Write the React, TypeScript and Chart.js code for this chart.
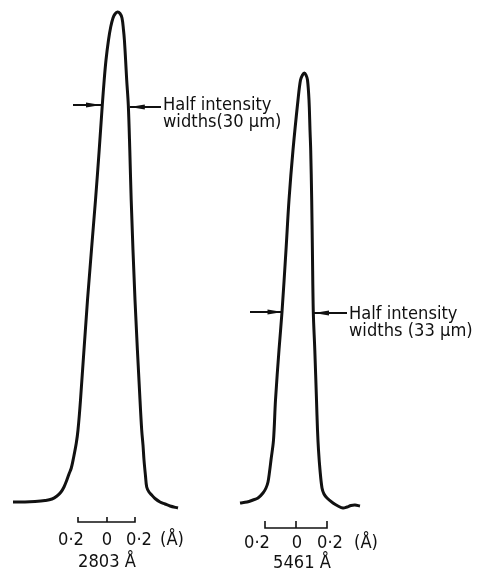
import React, { useEffect, useRef } from "react";
import { Chart, registerables } from "chart.js";

Chart.register(...registerables);

// Trace position (chart units) and recorded intensity (arbitrary units)
const peak2803X = [13, 25, 35, 45, 52, 57, 61, 64, 66.5, 69, 71.3, 73.5, 76.3, 78, 80.5, 87.5, 95.5, 99.2, 102.3, 104.2, 106, 108.5, 110.7, 113, 115, 117.5, 120, 122, 123.5, 124.4, 125.6, 126.7, 128.3, 129.8, 131.2, 135, 140, 141.7, 143, 144, 145.5, 146.7, 149, 151.7, 155, 160, 165, 170, 178];
const peak2803I = [8, 8, 8.5, 9.5, 11, 14, 18, 23, 29, 36, 42, 52, 67, 80, 110, 210, 310, 360, 405, 430, 450, 470, 483, 492, 496, 498, 496.5, 492, 480, 470, 450, 430, 405, 360, 310, 210, 110, 80, 65, 50, 34, 23, 18, 15, 11.5, 8, 6, 4, 2];

const peak5461X = [240, 247, 253, 258, 263, 266, 268, 269.5, 271, 273.5, 275.5, 279, 282, 286, 289, 293, 298, 300.5, 302.5, 304.3, 306, 307.5, 309, 310, 310.7, 311.7, 312.4, 313.3, 314.8, 316.5, 317.5, 318.5, 320, 322, 324, 327, 333, 338, 343, 347, 351, 355, 360];
const peak5461I = [7, 8, 10, 12, 17, 22, 28, 38, 50, 70, 110, 160, 198, 260, 310, 360, 410, 430, 435, 437, 435, 430, 410, 380, 360, 310, 260, 198, 160, 110, 80, 60, 40, 22, 16, 12, 7, 4, 2, 3, 4.5, 5, 4];

const halfWidthLabels2803 = ["Half intensity", "widths(30 \u03bcm)"];
const halfWidthLabels5461 = ["Half intensity", "widths (33 \u03bcm)"];
const scaleTickLabels = ["0\u00b72", "0", "0\u00b72", "(\u00c5)"];
const lineNames = ["2803 \u00c5", "5461 \u00c5"];

// annotation layout (chart units)
const layouts = [
  {
    arrowL: [73, 101, 405],
    arrowR: [161, 129.8, 403],
    text: [163, 400, 383],
    labels: halfWidthLabels2803,
    bar: [78, 107, 135, -12, -7],
    tickX: [71, 107, 139, 172],
    tickY: -35,
    name: [78, -57],
    lineName: lineNames[0],
  },
  {
    arrowL: [250, 282.5, 198],
    arrowR: [347, 314, 197],
    text: [349, 191, 174],
    labels: halfWidthLabels5461,
    bar: [265, 296, 327, -18, -11],
    tickX: [257, 297, 330, 366],
    tickY: -38,
    name: [273, -58],
    lineName: lineNames[1],
  },
];

const INK = "#111111";
const FONT = '17px "DejaVu Sans"';

const annotationPlugin = {
  id: "profileAnnotations",
  afterDatasetsDraw(chart: any) {
    const { ctx, scales } = chart;
    const X = (v: number) => scales.x.getPixelForValue(v);
    const Y = (v: number) => scales.y.getPixelForValue(v);
    ctx.save();
    ctx.strokeStyle = INK;
    ctx.fillStyle = INK;
    ctx.lineCap = "butt";

    const arrow = (from: number, to: number, yv: number) => {
      const x0 = X(from), x1 = X(to), y = Y(yv);
      const dir = Math.sign(x1 - x0);
      ctx.lineWidth = 2;
      ctx.beginPath();
      ctx.moveTo(x0, y);
      ctx.lineTo(x1, y);
      ctx.stroke();
      ctx.beginPath();
      ctx.moveTo(x1, y);
      ctx.lineTo(x1 - dir * 15, y - 2.6);
      ctx.lineTo(x1 - dir * 15, y + 2.6);
      ctx.closePath();
      ctx.fill();
    };

    const text = (s: string, x: number, y: number, align: CanvasTextAlign) => {
      ctx.save();
      ctx.font = FONT;
      ctx.textAlign = align;
      ctx.textBaseline = "alphabetic";
      ctx.translate(x, y);
      ctx.scale(0.96, 1);
      ctx.fillText(s, 0, 0);
      ctx.restore();
    };

    layouts.forEach((l) => {
      arrow(l.arrowL[0], l.arrowL[1], l.arrowL[2]);
      arrow(l.arrowR[0], l.arrowR[1], l.arrowR[2]);
      text(l.labels[0], X(l.text[0]), Y(l.text[1]), "left");
      text(l.labels[1], X(l.text[0]), Y(l.text[2]), "left");

      // scale bar
      const [b0, bm, b1, by, bt] = l.bar;
      ctx.lineWidth = 1.6;
      ctx.beginPath();
      ctx.moveTo(X(b0), Y(bt));
      ctx.lineTo(X(b0), Y(by));
      ctx.lineTo(X(b1), Y(by));
      ctx.lineTo(X(b1), Y(bt));
      ctx.moveTo(X(bm), Y(by));
      ctx.lineTo(X(bm), Y(bt));
      ctx.stroke();

      scaleTickLabels.forEach((s, i) => text(s, X(l.tickX[i]), Y(l.tickY), "center"));
      text(l.lineName, X(l.name[0]), Y(l.name[1]), "left");
    });
    ctx.restore();
  },
};

export default function App() {
  const ref = useRef<HTMLCanvasElement | null>(null);

  useEffect(() => {
    if (!ref.current) return;
    const toPts = (xs: number[], ys: number[]) => xs.map((x, i) => ({ x, y: ys[i] }));
    const chart = new Chart(ref.current, {
      type: "line",
      data: {
        datasets: [
          {
            label: "2803 \u00c5",
            data: toPts(peak2803X, peak2803I),
            borderColor: INK,
            borderWidth: 3,
            pointRadius: 0,
            tension: 0.35,
            fill: false,
          },
          {
            label: "5461 \u00c5",
            data: toPts(peak5461X, peak5461I),
            borderColor: INK,
            borderWidth: 3,
            pointRadius: 0,
            tension: 0.35,
            fill: false,
          },
        ],
      },
      options: {
        responsive: false,
        animation: false,
        devicePixelRatio: 1,
        layout: { padding: 0 },
        plugins: { legend: { display: false }, tooltip: { enabled: false } },
        scales: {
          x: { type: "linear", min: 0, max: 482, display: false },
          y: { type: "linear", min: -61, max: 510, display: false },
        },
      },
      plugins: [annotationPlugin],
    } as any);
    return () => chart.destroy();
  }, []);

  return (
    <div style={{ position: "absolute", left: 0, top: 0, width: 482, height: 571, background: "#fff" }}>
      <canvas ref={ref} width={482} height={571} style={{ display: "block", width: 482, height: 571 }} />
    </div>
  );
}
